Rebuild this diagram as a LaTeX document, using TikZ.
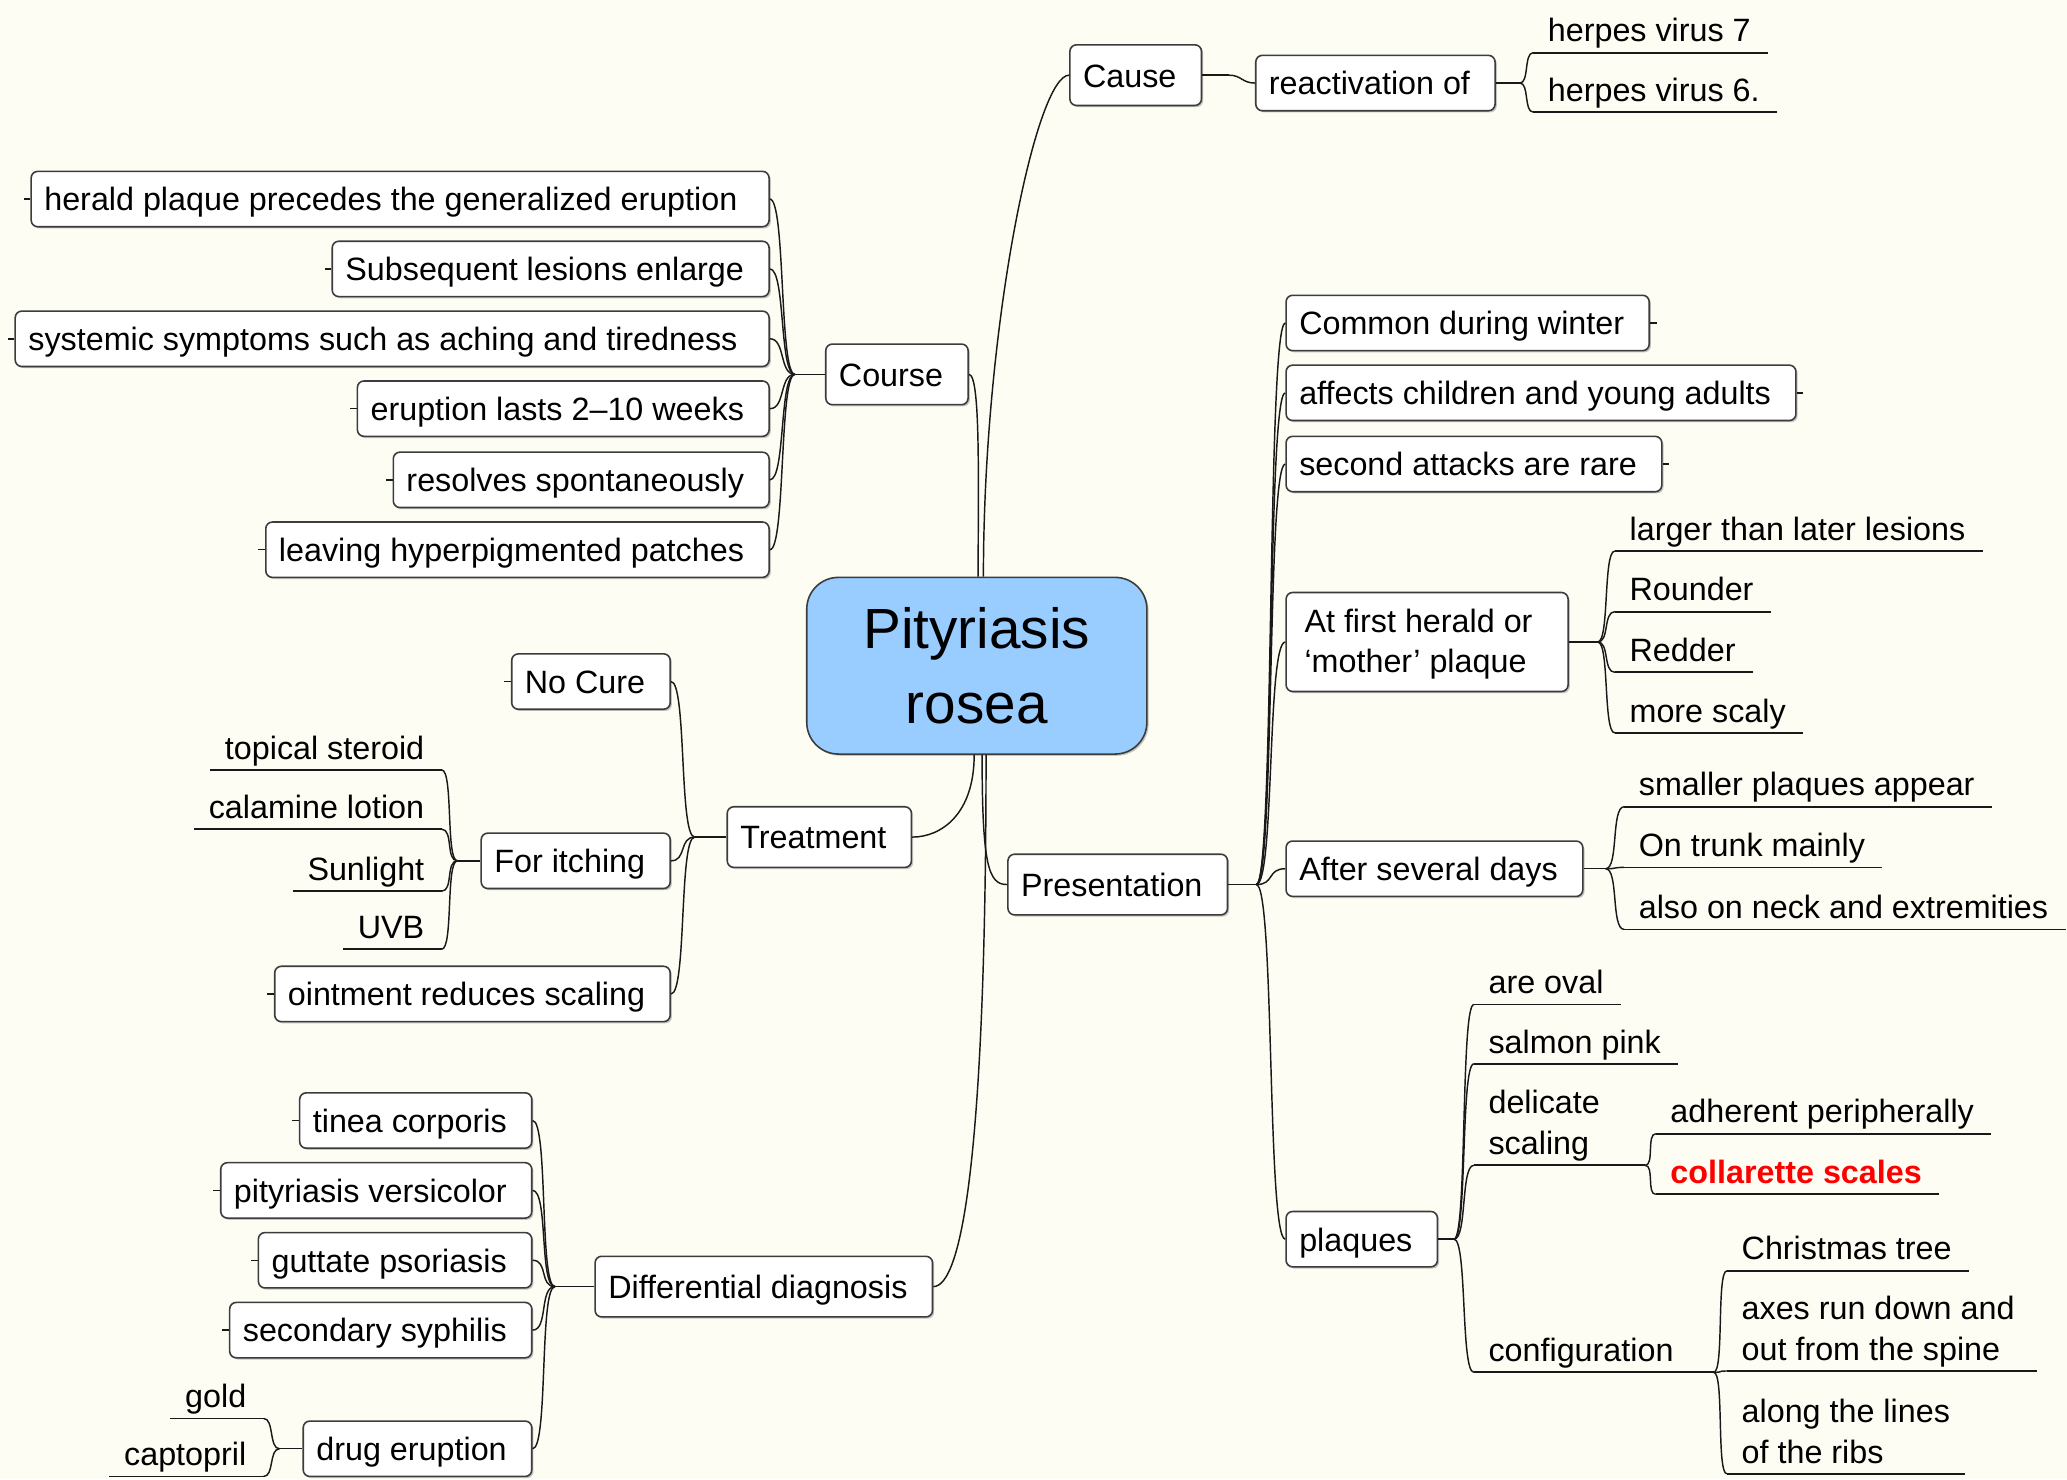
\documentclass[tikz,border=0pt]{standalone}
\usepackage{fontspec}
\setmainfont{Liberation Sans}
\usetikzlibrary{shadows}
\definecolor{paper}{RGB}{253,253,243}
\definecolor{hub}{RGB}{153,204,255}
\definecolor{edgec}{RGB}{60,60,60}
\definecolor{linec}{RGB}{25,25,25}
\definecolor{hot}{RGB}{255,0,0}
\newcommand\mmfont{\fontsize{24.5}{31}\selectfont}
\newcommand\lstrut{\rule[-6pt]{0pt}{24pt}}
\newcommand\bstrut{\rule[-3pt]{0pt}{24pt}}
% curved link from a junction point to a child anchor
\newcommand\mmlink[3]{\draw[conn] (#1) .. controls +(#3,0) and +({-(#3)},0) .. (#2);}
\begin{document}
\begin{tikzpicture}[x=1pt,y=-1pt,
  conn/.style={draw=linec,line width=1.1pt},
  uline/.style={draw=linec,line width=1.3pt},
  basebox/.style={draw=edgec,fill=white,line width=1.2pt,rounded corners=5pt,
    inner xsep=10pt,inner ysep=9pt,font=\mmfont,
    drop shadow={shadow xshift=1.3pt,shadow yshift=-1.3pt,fill=black!45,opacity=0.5}},
  box/.style={basebox,text height=21pt,text depth=3pt,execute at end node=\hspace*{9pt}},
  mainbox/.style={box,inner ysep=11pt},
  leaf/.style={inner xsep=11pt,inner ysep=2pt,text height=18pt,text depth=6pt,
    font=\mmfont,execute at end node=\hspace*{2pt}},
  leafm/.style={inner xsep=11pt,inner ysep=2pt,align=left,font=\mmfont},
]
\fill[paper] (0,0) rectangle (1568,1122);
\useasboundingbox (0,0) rectangle (1568,1122);

% central topic
\node[draw=edgec,fill=hub,line width=1.2pt,rounded corners=24pt,minimum width=258pt,
  minimum height=134pt,align=center,font=\fontsize{43}{57}\selectfont,
  drop shadow={shadow xshift=1.3pt,shadow yshift=-1.3pt,fill=black!45,opacity=0.5}]
  (hub) at (741,505) {Pityriasis\\rosea};

% Cause
\node[mainbox,anchor=west] (cause) at (811,57) {Cause};
\node[box,anchor=west] (react) at (952,63) {reactivation of};
\node[leaf,anchor=south west] (hv7) at (1163,40) {herpes virus 7};
\node[leaf,anchor=south west] (hv6) at (1163,85) {herpes virus 6.};
\coordinate (jcause) at (932,57);
\coordinate (jreact) at (1153,63);

% Course
\node[mainbox,anchor=east] (course) at (735,284) {Course};
\coordinate (jcourse) at (603,284);
\node[box,anchor=east] (c1) at (584,151) {herald plaque precedes the generalized eruption\hspace*{5pt}};
\node[box,anchor=east] (c2) at (584,204) {Subsequent lesions enlarge};
\node[box,anchor=east] (c3) at (584,257) {systemic symptoms such as aching and tiredness\hspace*{5pt}};
\node[box,anchor=east] (c4) at (584,310) {eruption lasts 2–10 weeks};
\node[box,anchor=east] (c5) at (584,364) {resolves spontaneously};
\node[box,anchor=east] (c6) at (584,417) {leaving hyperpigmented patches};

% Treatment
\node[mainbox,anchor=east] (treat) at (692,635) {Treatment};
\coordinate (jtreat) at (527,635);
\node[box,anchor=east] (nocure) at (509,517) {No Cure};
\node[box,anchor=east] (itch) at (509,653) {For itching};
\node[box,anchor=east] (oint) at (509,754) {ointment reduces scaling};
\coordinate (jitch) at (347,653);
\node[leaf,anchor=south east] (ster) at (335,584) {topical steroid};
\node[leaf,anchor=south east] (cala) at (335,629) {calamine lotion};
\node[leaf,anchor=south east] (sun) at (335,676) {Sunlight};
\node[leaf,anchor=south east] (uvb) at (335,720) {UVB};

% Differential diagnosis
\node[mainbox,anchor=east] (dd) at (708,976) {Differential diagnosis};
\coordinate (jdd) at (421,976);
\node[box,anchor=east] (d1) at (404,850) {tinea corporis};
\node[box,anchor=east] (d2) at (404,903) {pityriasis versicolor};
\node[box,anchor=east] (d3) at (404,956) {guttate psoriasis};
\node[box,anchor=east] (d4) at (404,1009) {secondary syphilis};
\node[box,anchor=east] (d5) at (404,1099) {drug eruption};
\coordinate (jdrug) at (212,1099);
\node[leaf,anchor=south east] (gold) at (200,1076) {gold};
\node[leaf,anchor=south east] (capt) at (200,1120) {captopril};

% Presentation
\node[mainbox,anchor=west] (pres) at (764,671) {Presentation};
\coordinate (jpres) at (953,671);
\node[box,anchor=west] (p1) at (975,245) {Common during winter};
\node[box,anchor=west] (p2) at (975,298) {affects children and young adults};
\node[box,anchor=west] (p3) at (975,352) {second attacks are rare};
\node[basebox,anchor=west,align=left,inner xsep=14pt] (p4) at (975,487)
  {At first herald or\hspace*{13pt}\bstrut\\‘mother’ plaque\bstrut};
\node[box,anchor=west] (p5) at (975,659) {After several days};
\node[box,anchor=west] (p6) at (975,940) {plaques};

\coordinate (jherald) at (1212,487);
\node[leaf,anchor=south west] (larg) at (1225,418) {larger than later lesions};
\node[leaf,anchor=south west] (roun) at (1225,464) {Rounder};
\node[leaf,anchor=south west] (redd) at (1225,510) {Redder};
\node[leaf,anchor=south west] (scal) at (1225,556) {more scaly};

\coordinate (jafter) at (1218,659);
\node[leaf,anchor=south west] (smal) at (1232,612) {smaller plaques appear};
\node[leaf,anchor=south west] (trun) at (1232,658) {On trunk mainly};
\node[leaf,anchor=south west] (neck) at (1232,705) {also on neck and extremities};

\coordinate (jplaq) at (1103,940);
\node[leaf,anchor=south west] (oval) at (1118,762) {are oval};
\node[leaf,anchor=south west] (salm) at (1118,807) {salmon pink};
\node[leafm,anchor=south west] (delic) at (1118,884) {delicate\lstrut\\scaling\lstrut};
\node[leaf,anchor=south west] (conf) at (1118,1041) {configuration};

\coordinate (jdel) at (1248,884);
\node[leaf,anchor=south west] (adhe) at (1256,860) {adherent peripherally};
\node[leaf,anchor=south west,text=hot,font=\mmfont\bfseries] (coll) at (1256,906) {collarette scales};

\coordinate (jconf) at (1300,1041);
\node[leaf,anchor=south west] (xmas) at (1310,964) {Christmas tree};
\node[leafm,anchor=south west] (axes) at (1310,1040) {axes run down and\hspace*{6pt}\lstrut\\out from the spine\lstrut};
\node[leafm,anchor=south west] (ribs) at (1310,1118) {along the lines\lstrut\\of the ribs\lstrut};

% underlines of the plain-text topics
\foreach \n in {hv7,hv6,ster,cala,sun,uvb,gold,capt,larg,roun,redd,scal,smal,trun,neck,
  oval,salm,delic,conf,adhe,coll,xmas,axes,ribs}
  \draw[uline] (\n.south west) -- (\n.south east);

% end ticks on leaf boxes
\foreach \n in {c1,c2,c3,c4,c5,c6,nocure,oint,d1,d2,d3,d4}
  \draw[conn] (\n.west) -- +(-5,0);
\foreach \n in {p1,p2,p3}
  \draw[conn] (\n.east) -- +(5,0);

% main branches from the central topic
\draw[conn] ([xshift=5pt]hub.north) .. controls +(0,-190) and +(-25,0) .. (cause.west);
\draw[conn] (course.east) .. controls +(9,0) and +(0,-70) .. ([xshift=1pt]hub.north);
\draw[conn] ([xshift=-2pt]hub.south) .. controls +(0,45) and +(22,0) .. (treat.east);
\draw[conn] ([xshift=4pt]hub.south) .. controls +(0,85) and +(-14,0) .. (pres.west);
\draw[conn] ([xshift=7pt]hub.south) .. controls +(0,300) and +(22,0) .. (dd.east);

% Cause
\draw[conn] (cause.east) -- (jcause);
\mmlink{jcause}{react.west}{10}
\draw[conn] (react.east) -- (jreact);
\mmlink{jreact}{hv7.south west}{7}
\mmlink{jreact}{hv6.south west}{7}

% Course
\draw[conn] (course.west) -- (jcourse);
\foreach \n in {c1,c2,c3,c4,c5,c6} {\mmlink{jcourse}{\n.east}{-12}}

% Treatment
\draw[conn] (treat.west) -- (jtreat);
\foreach \n in {nocure,itch,oint} {\mmlink{jtreat}{\n.east}{-12}}
\draw[conn] (itch.west) -- (jitch);
\foreach \n in {ster,cala,sun,uvb} {\mmlink{jitch}{\n.south east}{-9}}

% Differential diagnosis
\draw[conn] (dd.west) -- (jdd);
\foreach \n in {d1,d2,d3,d4,d5} {\mmlink{jdd}{\n.east}{-12}}
\draw[conn] (d5.west) -- (jdrug);
\foreach \n in {gold,capt} {\mmlink{jdrug}{\n.south east}{-8}}

% Presentation
\draw[conn] (pres.east) -- (jpres);
\foreach \n in {p1,p2,p3,p4,p5,p6} {\mmlink{jpres}{\n.west}{14}}
\draw[conn] (p4.east) -- (jherald);
\foreach \n in {larg,roun,redd,scal} {\mmlink{jherald}{\n.south west}{9}}
\draw[conn] (p5.east) -- (jafter);
\foreach \n in {smal,trun,neck} {\mmlink{jafter}{\n.south west}{10}}
\draw[conn] (p6.east) -- (jplaq);
\foreach \n in {oval,salm,delic,conf} {\mmlink{jplaq}{\n.south west}{10}}
\draw[uline] (delic.south east) -- (jdel);
\foreach \n in {adhe,coll} {\mmlink{jdel}{\n.south west}{7}}
\draw[uline] (conf.south east) -- (jconf);
\foreach \n in {xmas,axes,ribs} {\mmlink{jconf}{\n.south west}{8}}
\end{tikzpicture}
\end{document}
